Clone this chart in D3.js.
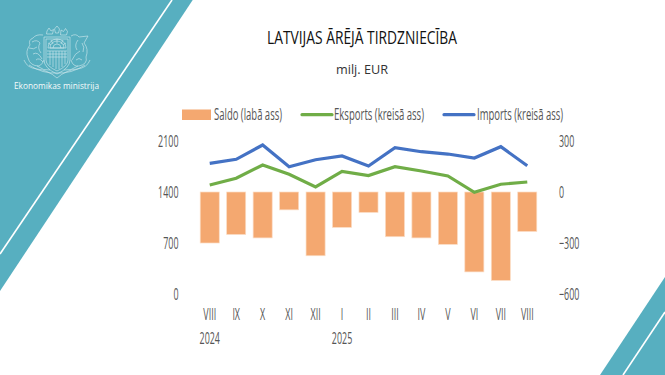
<!DOCTYPE html>
<html><head><meta charset="utf-8">
<script src="https://cdn.jsdelivr.net/npm/d3@7"></script>
<style>
html,body{margin:0;padding:0;background:#fff}
svg{display:block}
text{font-family:"Open Sans",sans-serif}
</style></head><body>
<svg id="c" width="665" height="375"></svg>
<script>
const months = ["VIII","IX","X","XI","XII","I","II","III","IV","V","VI","VII","VIII"];
const keys = months.map((m,i)=>i+":"+m);
const yearLabels = [["2024",0],["2025",5]];
const saldo = [-300,-250,-270,-105,-375,-208,-120,-263,-270,-308,-470,-520,-232];
const eksports = [1496,1588,1771,1643,1469,1684,1626,1747,1688,1620,1396,1506,1537];
const imports = [1794,1849,2045,1747,1843,1894,1757,2008,1953,1921,1867,2022,1761];
const leftTicks = [0,700,1400,2100];
const rightTicks = [-600,-300,0,300];
const TEAL="#57afc0", BAR="#f4a870", BARE="#fbdcc4", GREEN="#70ad47", BLUE="#4472c4", INK="#555555";

const svg = d3.select("#c");
const condense = (sel,r)=>sel.each(function(){
  const L=this.getComputedTextLength();
  d3.select(this).attr("textLength",L*r).attr("lengthAdjust","spacingAndGlyphs");
});
const fit = (sel,w)=>sel.attr("textLength",w).attr("lengthAdjust","spacingAndGlyphs");

// background shapes
svg.append("path").attr("d","M0,0H192.7L0,291Z").attr("fill",TEAL);
svg.append("path").attr("d","M172,0L0,254").attr("stroke","#fff").attr("stroke-width",1.6).attr("fill","none");
svg.append("path").attr("d","M665,277L600,375H665Z").attr("fill",TEAL);
svg.append("path").attr("d","M665,312L623,375").attr("stroke","#fff").attr("stroke-width",1.6).attr("fill","none");

// emblem
const em = svg.append("g").attr("fill","none").attr("stroke","#fff").attr("stroke-width",.6).attr("opacity",.75);
em.append("path").attr("d","M44,37H70V60Q70,68 57,74Q44,68 44,60Z");
em.append("path").attr("d","M46,39H68V60Q68,66 57,71Q46,66 46,60Z");
em.append("path").attr("d","M48,48A9,9 0 0 1 66,48Z");
em.append("path").attr("d","M50,48A7,7 0 0 1 64,48ZM53,48A4,4 0 0 1 61,48");
em.append("path").attr("d","M47,51H67M47,54H67M47,57H67M50,51V65M53,51V67M56,51V69M59,51V69M62,51V67M65,51V64");
em.append("path").attr("d","M48,43L51,45M51,40L53,44M57,39V43.5M63,40L61,44M66,43L63,45");
em.append("path").attr("d","M47,31l2,-3l2,3l2.5,-1.500l-1,4.500h-6zM54.500,29l2.500,-3l2.500,3l-1,4h-3zM61,30l2.500,1.500l2,-3l2,3l-1,3.500h-6z");
em.append("path").attr("d","M43,35Q36,34 33,38Q28,40 30,45Q25,51 28,58Q30,66 39,66Q43,64 44,60M32,42Q37,39 40,43Q37,48 41,53M33,54Q38,51 42,59M29,48Q34,50 37,47M36,60Q39,57 43,62");
em.append("path").attr("d","M71,36Q76,33 79,37L88,36L84,43Q89,49 86,57Q88,64 79,66Q73,67 71,60M78,40Q74,45 77,50M80,51Q75,53 72,60M82,43Q85,47 83,52M76,60Q79,57 82,60");
em.append("path").attr("d","M24,60Q27,68 37,69Q48,70 57,78Q66,70 77,69Q87,68 90,60M29,65Q43,74 57,73Q71,74 85,65M37,66Q44,71 50,70M64,70Q71,71 78,66");
svg.append("text").attr("x",14).attr("y",88.5).attr("font-size",9.5).attr("fill","#fff").attr("opacity",.95).text("Ekonomikas ministrija").call(fit,85);

// title
svg.append("text").attr("x",267).attr("y",44).attr("font-size",18.5).attr("font-weight",500).attr("fill","#111").text("LATVIJAS ĀRĒJĀ TIRDZNIECĪBA").call(fit,190);
svg.append("text").attr("x",336).attr("y",74).attr("font-size",13).attr("fill","#333").text("milj. EUR").call(fit,52);

// scales
const x = d3.scaleBand().domain(keys).range([196.5,540.5]).paddingInner(.28).paddingOuter(.14);
const yL = d3.scaleLinear().domain([0,2100]).range([294,141]);
const yR = d3.scaleLinear().domain([-600,300]).range([294,141]);
const cx = i=>x(keys[i])+x.bandwidth()/2;

// bars
svg.append("g").selectAll("rect").data(saldo).join("rect")
  .attr("x",(d,i)=>x(keys[i])).attr("width",x.bandwidth())
  .attr("y",d=>yR(0)).attr("height",d=>yR(d)-yR(0))
  .attr("fill",BAR).attr("stroke",BARE).attr("stroke-width",.7);

// lines
const line = d3.line().x((d,i)=>cx(i)).y(d=>yL(d));
svg.append("path").datum(eksports).attr("d",line).attr("fill","none").attr("stroke",GREEN).attr("stroke-width",3.2);
svg.append("path").datum(imports).attr("d",line).attr("fill","none").attr("stroke",BLUE).attr("stroke-width",3.2);

// axes
const gL = svg.append("g").attr("transform","translate(178.5,0)")
  .call(d3.axisLeft(yL).tickValues(leftTicks).tickSize(0).tickPadding(0).tickFormat(d3.format("d")));
const gR = svg.append("g").attr("transform","translate(559,0)")
  .call(d3.axisRight(yR).tickValues(rightTicks).tickSize(0).tickPadding(0).tickFormat(d3.format("d")));
const gX = svg.append("g").attr("transform","translate(0,308)")
  .call(d3.axisBottom(x).tickSize(0).tickPadding(0).tickFormat(k=>k.split(":")[1]));
[gL,gR,gX].forEach(g=>{
  g.select(".domain").remove();
  g.selectAll("text").attr("font-size",16.5).attr("font-family",'"Open Sans",sans-serif').attr("font-weight",400).attr("fill",INK);
});
gL.selectAll("text").call(condense,.54);
gR.selectAll("text").call(condense,.54);
gX.selectAll("text").attr("y",0).attr("dy",".72em").call(condense,.54);

svg.append("g").selectAll("text").data(yearLabels).join("text")
  .attr("x",d=>cx(d[1])).attr("y",344).attr("text-anchor","middle")
  .attr("font-size",16.5).attr("font-weight",400).attr("fill",INK).text(d=>d[0]).call(condense,.54);

// legend
const lg = svg.append("g");
lg.append("rect").attr("x",182).attr("y",109.5).attr("width",29).attr("height",10.5).attr("fill",BAR);
lg.append("line").attr("x1",302).attr("x2",332).attr("y1",114.7).attr("y2",114.7).attr("stroke",GREEN).attr("stroke-width",3.2).attr("stroke-linecap","round");
lg.append("line").attr("x1",444).attr("x2",474).attr("y1",114.7).attr("y2",114.7).attr("stroke",BLUE).attr("stroke-width",3.2).attr("stroke-linecap","round");
[["Saldo (labā ass)",214,68],["Eksports (kreisā ass)",334,90],["Imports (kreisā ass)",477,86]].forEach(([t,a,w])=>{
  lg.append("text").attr("x",a).attr("y",120).attr("font-size",16).attr("font-weight",400).attr("fill",INK).text(t).call(fit,w);
});
</script></body></html>
